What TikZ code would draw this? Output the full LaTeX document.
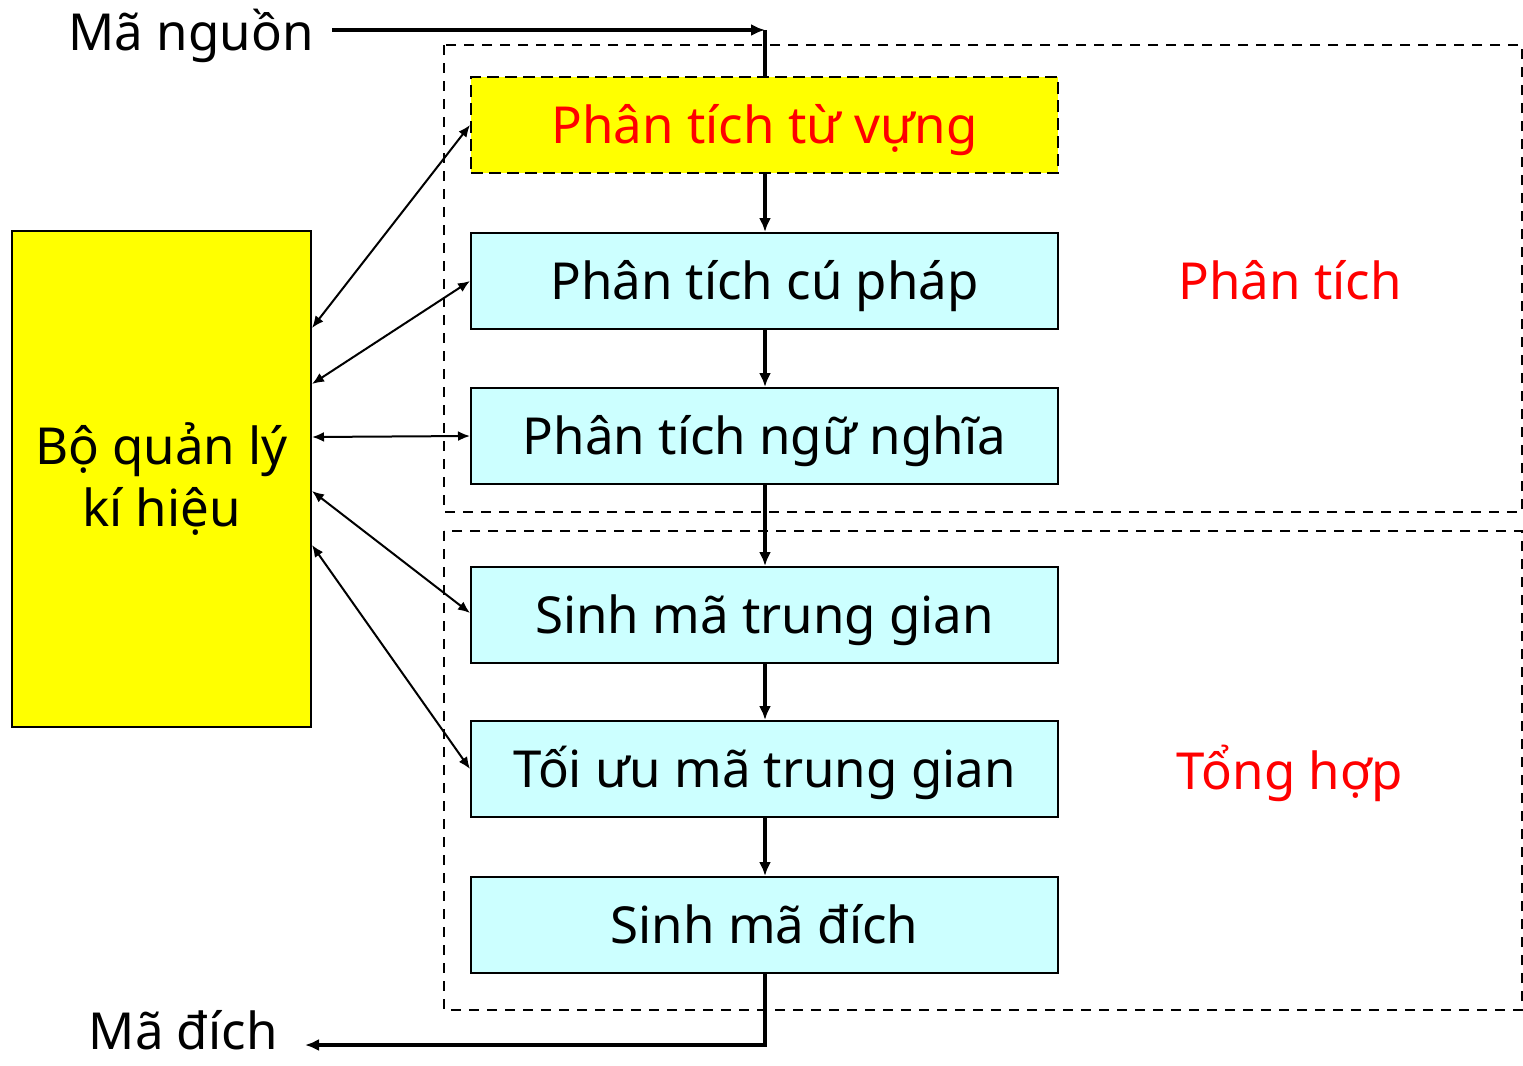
\documentclass[tikz,border=0pt]{standalone}
\usepackage{fontspec}
\setmainfont{Noto Sans}
\usetikzlibrary{arrows.meta}
\definecolor{stagefill}{RGB}{204,255,255}
\definecolor{symfill}{RGB}{255,255,0}
\begin{document}
\begin{tikzpicture}[x=0.5pt,y=-0.5pt,
  stage/.style={draw=black,line width=1pt,fill=stagefill,minimum width=293.5pt,minimum height=48pt,inner sep=0pt,font=\fontsize{25.5}{30}\selectfont,text height=18.2pt,text depth=0pt},
  lbl/.style={font=\fontsize{25.5}{30}\selectfont,text height=18.2pt,text depth=0pt,inner sep=1pt},
  flow/.style={line width=2pt,-{Latex[length=7pt,width=6pt]}},
  link/.style={line width=1pt,{Latex[length=6pt,width=5pt]}-{Latex[length=6pt,width=5pt]}},
  group/.style={draw=black,line width=0.8pt,dash pattern=on 5pt off 4pt}]
\useasboundingbox (0,0) rectangle (1523,1066);
% dashed groups
\draw[group] (444,45) rectangle (1522,512);
\draw[group] (444,531) rectangle (1522,1010);
% symbol table
\node[draw=black,line width=1pt,fill=symfill,minimum width=149.5pt,minimum height=248pt,inner sep=0pt,align=center,font=\fontsize{25.5}{31}\selectfont] (sym) at (161.5,479) {Bộ quản lý\\kí hiệu};
% stages
\node[stage,fill=symfill,dash pattern=on 6pt off 3pt,text=red] (s1) at (764.5,125) {Phân tích từ vựng};
\node[stage] (s2) at (764.5,281) {Phân tích cú pháp};
\node[stage] (s3) at (764.5,436) {Phân tích ngữ nghĩa};
\node[stage] (s4) at (764.5,615) {Sinh mã trung gian};
\node[stage] (s5) at (764.5,769) {Tối ưu mã trung gian};
\node[stage] (s6) at (764.5,925) {Sinh mã đích};
% labels
\node[lbl,text=red] (pt) at (1290,281) {Phân tích};
\node[lbl,text=red] (th) at (1290,771) {Tổng hợp};
\node[lbl,anchor=east] (src) at (316,32) {Mã nguồn};
\node[lbl,anchor=east] (dst) at (280,1031) {Mã đích};
\coordinate (a0) at (332,30);
\coordinate (c1) at (765,30);
\coordinate (c2) at (765,1045);
\coordinate (a1) at (305,1045);
% flow
\draw[flow] (a0) -- (c1);
\draw[line width=2pt] (c1) -- (s1.north -| c1);
\draw[flow] (s1.south -| c1) -- (s2.north -| c1);
\draw[flow] (s2.south -| c1) -- (s3.north -| c1);
\draw[flow] (s3.south -| c1) -- (s4.north -| c1);
\draw[flow] (s4.south -| c1) -- (s5.north -| c1);
\draw[flow] (s5.south -| c1) -- (s6.north -| c1);
\draw[flow] (s6.south -| c1) -- (c2) -- (a1);
% links
\draw[link] (sym.east |- 0,328) -- (s1.west);
\draw[link] (sym.east |- 0,384) -- (s2.west);
\draw[link] (sym.east |- 0,437) -- (s3.west);
\draw[link] (sym.east |- 0,491) -- (s4.west |- 0,613);
\draw[link] (sym.east |- 0,545) -- (s5.west);
\end{tikzpicture}
\end{document}
